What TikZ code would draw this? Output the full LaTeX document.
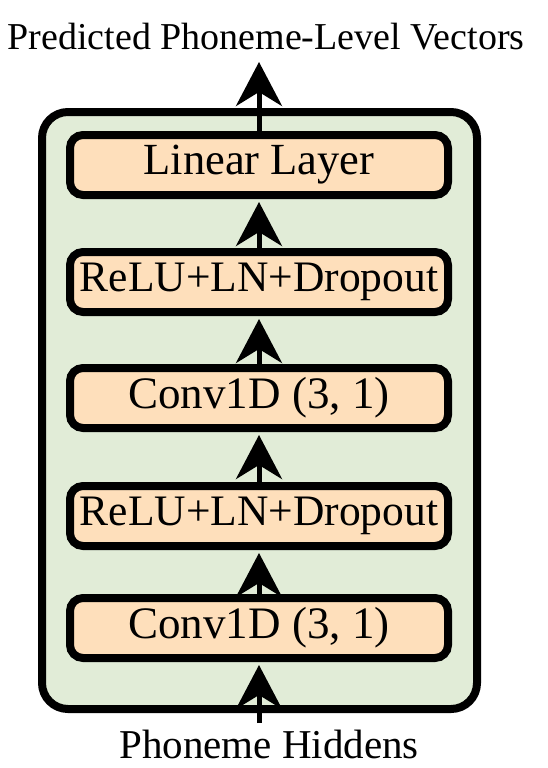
\documentclass[tikz,border=0pt]{standalone}
\usepackage{fontspec}
\setmainfont{Liberation Serif}
\usetikzlibrary{arrows.meta}
\definecolor{outerg}{RGB}{225,236,215}
\definecolor{innero}{RGB}{254,223,187}
\begin{document}
\begin{tikzpicture}[x=1pt,y=-1pt,
  layerbox/.style={draw=black, line width=8pt, fill=innero, rounded corners=13pt,
    minimum width=378pt, minimum height=60pt, inner sep=0pt},
  flow/.style={line width=5pt, -{Stealth[length=44pt,width=46pt,inset=14pt]}, shorten >=3pt},
  lbl/.style={inner sep=0pt, anchor=base}]
\useasboundingbox (0,0) rectangle (548,768);
\node[draw=black, line width=8pt, fill=outerg, rounded corners=26pt, minimum width=435pt, minimum height=597pt, inner sep=0pt] (outer) at (259.5,410.5) {};
\node[layerbox, font=\fontsize{44.5}{48}\selectfont] (lin) at (259,165) {Linear Layer};
\node[layerbox, font=\fontsize{43.5}{48}\selectfont] (relu1) at (259,282) {ReLU+LN+Dropout};
\node[layerbox, font=\fontsize{45}{48}\selectfont] (conv1) at (259,398) {Conv1D (3, 1)};
\node[layerbox, font=\fontsize{43.5}{48}\selectfont] (relu2) at (259,516) {ReLU+LN+Dropout};
\node[layerbox, font=\fontsize{45}{48}\selectfont] (conv2) at (259,628) {Conv1D (3, 1)};
\node[lbl, font=\fontsize{38}{40}\selectfont] (title) at (266,49) {Predicted Phoneme-Level Vectors};
\node[lbl, font=\fontsize{41}{44}\selectfont] (hid) at (269,758) {Phoneme Hiddens};
\coordinate (outtip) at (259,62);
\coordinate (intail) at (259,723);
\draw[flow] (intail) -- (conv2.south);
\draw[flow] (conv2.north) -- (relu2.south);
\draw[flow] (relu2.north) -- (conv1.south);
\draw[flow] (conv1.north) -- (relu1.south);
\draw[flow] (relu1.north) -- (lin.south);
\draw[flow, shorten >=0pt] (lin.north) -- (outtip);
\end{tikzpicture}
\end{document}
